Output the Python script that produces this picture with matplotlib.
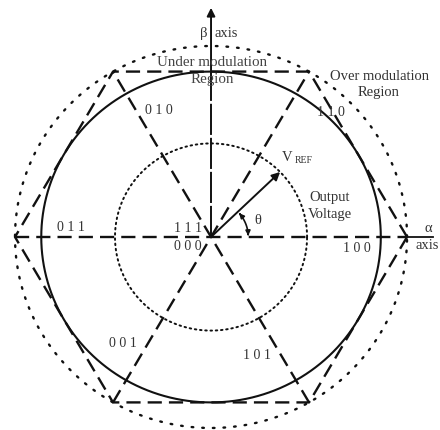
import numpy as np
import matplotlib
matplotlib.use('Agg')
import matplotlib.pyplot as plt
from matplotlib.patches import FancyArrowPatch
from matplotlib.path import Path

# %% DATA
# switching states at the hexagon vertices (angle in degrees)
state_angles = [0, 60, 120, 180, 240, 300]
state_names = ['1 0 0', '1 1 0', '0 1 0', '0 1 1', '0 0 1', '1 0 1']
state_label_pos = [(0.745, -0.058), (0.612, 0.654), (-0.265, 0.66),
                   (-0.714, 0.052), (-0.449, -0.56), (0.235, -0.618)]
zero_names = ['1 1 1', '0 0 0']
zero_label_pos = [(-0.117, 0.047), (-0.117, -0.052)]

hex_radius = 1.0
linear_radius = np.sqrt(3) / 2      # max circle inside the hexagon
outer_radius = 1.0                  # over modulation boundary
output_radius = 0.49                # output voltage locus
vref_angle = 44
theta_span = [2, 41]
theta_radius = 0.19

# %% FIGURE
fig = plt.figure(figsize=(4.4, 4.3), dpi=100)
ax = fig.add_axes([0, 0, 1, 1])
ax.set_xlim(-1.0765, 1.168)
ax.set_ylim(-1.0105, 1.2408)
ax.axis('off')

ink = '#111111'
txt = '#333333'
serif = 'Liberation Serif'

# hexagon edges
hx = hex_radius * np.cos(np.radians(state_angles + [360]))
hy = hex_radius * np.sin(np.radians(state_angles + [360]))
ax.plot(hx, hy, color=ink, lw=1.7, dashes=(6, 3), solid_capstyle='butt')

# diagonals at 60 and 120 degrees through the origin
for a in [60, 120]:
    c, s = np.cos(np.radians(a)), np.sin(np.radians(a))
    ax.plot([-c, c], [-s, s], color=ink, lw=1.7, dashes=(6, 3))

# alpha axis
ax.plot([-hex_radius, hex_radius], [0, 0], color=ink, lw=1.7, dashes=(6, 3))
ax.plot([hex_radius, 1.13], [0, 0], color=ink, lw=1.3)

# beta axis
ax.plot([0, 0], [0, linear_radius], color=ink, lw=1.4, dashes=(16, 1.5))
ax.annotate('', xy=(0, 1.2), xytext=(0, linear_radius - 0.01),
            arrowprops=dict(arrowstyle='-|>', color=ink, lw=1.4,
                            mutation_scale=12, shrinkA=0, shrinkB=0))

# circles
t = np.linspace(0, 2 * np.pi, 721)
ax.plot(linear_radius * np.cos(t), linear_radius * np.sin(t),
        color=ink, lw=1.5)
ax.plot(outer_radius * np.cos(t), outer_radius * np.sin(t),
        color=ink, lw=1.7, dashes=(0.7, 3.8), dash_capstyle='round')
ax.plot(output_radius * np.cos(t), output_radius * np.sin(t),
        color=ink, lw=1.4, dashes=(0.8, 1.9), dash_capstyle='round')

# reference vector
vx = output_radius * np.cos(np.radians(vref_angle))
vy = output_radius * np.sin(np.radians(vref_angle))
ax.annotate('', xy=(vx, vy), xytext=(0, 0),
            arrowprops=dict(arrowstyle='-|>', color=ink, lw=1.4,
                            mutation_scale=12, shrinkA=0, shrinkB=0))

# theta arc
ta = np.radians(np.linspace(theta_span[1], theta_span[0], 30))
arc = Path(np.column_stack([theta_radius * np.cos(ta),
                            theta_radius * np.sin(ta)]))
ax.add_patch(FancyArrowPatch(path=arc, arrowstyle='<|-|>', color=ink,
                             lw=1.2, mutation_scale=7))

# labels
for name, (x, y) in zip(state_names, state_label_pos):
    ax.text(x, y, name, ha='center', va='center', fontsize=10,
            family=serif, color=txt)
for name, (x, y) in zip(zero_names, zero_label_pos):
    ax.text(x, y, name, ha='center', va='center', fontsize=10,
            family=serif, color=txt)

ax.text(-0.02, 1.068, 'β', ha='right', va='center', fontsize=10.5,
        family=serif, color=txt)
ax.text(0.02, 1.068, 'axis', ha='left', va='center', fontsize=10.5,
        family=serif, color=txt)
ax.text(1.11, 0.045, 'α', ha='center', va='center', fontsize=10.5,
        family=serif, color=txt)
ax.text(1.105, -0.047, 'axis', ha='center', va='center', fontsize=10.5,
        family=serif, color=txt)

ax.text(0.005, 0.911, 'Under modulation', ha='center', va='center',
        fontsize=10.8, family=serif, color='#444444')
ax.text(0.005, 0.822, 'Region', ha='center', va='center',
        fontsize=10.8, family=serif, color='#444444')
ax.text(0.857, 0.838, 'Over modulation', ha='center', va='center',
        fontsize=10.5, family=serif, color=txt)
ax.text(0.857, 0.754, 'Region', ha='center', va='center',
        fontsize=10.5, family=serif, color=txt)

ax.text(0.607, 0.209, 'Output', ha='center', va='center', fontsize=10.5,
        family=serif, color=txt)
ax.text(0.607, 0.12, 'Voltage', ha='center', va='center', fontsize=10.5,
        family=serif, color=txt)
ax.text(0.24, 0.084, 'θ', ha='center', va='center', fontsize=10.5,
        family=serif, color=txt)
ax.text(0.362, 0.414, 'V', ha='left', va='center', fontsize=10.5,
        family=serif, color=txt)
ax.text(0.425, 0.398, 'REF', ha='left', va='center', fontsize=7,
        family=serif, color=txt)

fig.savefig('out.png', dpi=100, facecolor='white')
